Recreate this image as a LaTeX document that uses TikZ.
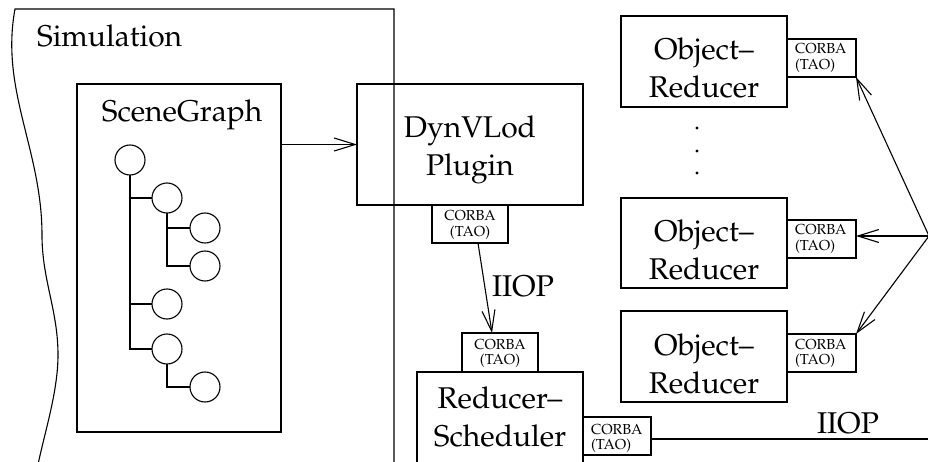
\documentclass[tikz,border=0pt]{standalone}
\usepackage[T1]{fontenc}
\usepackage{mathpazo}
\usetikzlibrary{arrows.meta,calc}

% two centred / left-aligned lines whose baseline is the first line
\newcommand\stackedc[2]{\begin{tabular}[t]{@{}c@{}}#1\\#2\end{tabular}}
\newcommand\stackedl[2]{\begin{tabular}[t]{@{}l@{}}#1\\#2\end{tabular}}

\begin{document}
\begin{tikzpicture}[x=1pt,y=-1pt,
  every node/.style={inner sep=0pt, outer sep=0pt},
  box/.style={draw, rectangle, line width=1.2pt},
  leaf/.style={draw, circle, line width=1.1pt, minimum size=30pt},
  big/.style={font=\fontsize{30}{38}\selectfont},
  small/.style={font=\fontsize{14.5}{15.5}\selectfont},
  wire/.style={line width=1.1pt},
  arr/.style={line width=1.1pt, -{Straight Barb[length=21pt,width=13pt,line width=1.1pt]}}]

\clip (0,0) rectangle (928,462);

% simulation area with its torn left edge
\draw[wire] (36,475) .. controls (42,440) and (58,395) .. (58,355)
  .. controls (58,310) and (42,280) .. (42,235)
  .. controls (42,150) and (0,90) .. (15,9) -- (394,9) -- (394,475);
\node[big, anchor=base west] (simlabel) at (37,47) {Simulation};

% scene graph
\node[box, minimum width=204pt, minimum height=348pt] (sg) at (179,258) {};
\node[big, anchor=base] (sglabel) at (182,122) {SceneGraph};
\node[leaf] (n1) at (130,160) {};
\node[leaf] (n2) at (167,198) {};
\node[leaf] (n3) at (205,228) {};
\node[leaf] (n4) at (205,266) {};
\node[leaf] (n5) at (167,304) {};
\node[leaf] (n6) at (167,349) {};
\node[leaf] (n7) at (205,387) {};
\draw[wire] (n1.south) |- (n2.west);
\draw[wire] (n1.south) |- (n5.west);
\draw[wire] (n1.south) |- (n6.west);
\draw[wire] (n2.south) |- (n3.west);
\draw[wire] (n2.south) |- (n4.west);
\draw[wire] (n6.south) |- (n7.west);

% plugin
\node[box, minimum width=226pt, minimum height=121pt] (dv) at (470,144.5) {};
\node[big, anchor=base] (dvlabel) at (470,138) {\stackedc{DynVLod}{Plugin}};
\node[box, minimum width=76pt, minimum height=38pt] (cd) at (470,224) {};
\node[small, anchor=base] (cdlabel) at (470,221) {\stackedc{CORBA}{(TAO)}};
\draw[arr] (sg.east |- dv.west) -- (dv.west);

% reducer scheduler
\node[box, minimum width=76pt, minimum height=39pt] (cr) at (500,352.5) {};
\node[small, anchor=base] (crlabel) at (500,349) {\stackedc{CORBA}{(TAO)}};
\node[box, minimum width=166pt, minimum height=108pt] (rs) at (500,426) {};
\node[big, anchor=base] (rslabel) at (500,408) {\stackedc{Reducer--}{Scheduler}};
\node[box, minimum width=68pt, minimum height=38pt] (cs) at (617,436) {};
\node[small, anchor=base west] (cslabel) at (591,434) {\stackedl{CORBA}{(TAO)}};

\draw[arr] ($(cd.south)+(8,0)$) -- ($(cr.north)+(-8,0)$);
\node[big, anchor=base west] (iiopa) at (492,296) {IIOP};

\coordinate (busend) at (930,439);
\draw[wire] (cs.east |- busend) -- (busend);
\node[big, anchor=base west] (iiopb) at (817,433) {IIOP};

% object reducers
\node[box, minimum width=166pt, minimum height=91pt] (or1) at (704,61.5) {};
\node[big, anchor=base] (or1label) at (704,60) {\stackedc{Object--}{Reducer}};
\node[box, minimum width=69pt, minimum height=38pt] (c1) at (821.5,58) {};
\node[small, anchor=base west] (c1label) at (795,54) {\stackedl{CORBA}{(TAO)}};

\node[box, minimum width=166pt, minimum height=90pt] (or2) at (704,243) {};
\node[big, anchor=base] (or2label) at (704,242) {\stackedc{Object--}{Reducer}};
\node[box, minimum width=69pt, minimum height=38pt] (c2) at (821.5,239) {};
\node[small, anchor=base west] (c2label) at (795,235) {\stackedl{CORBA}{(TAO)}};

\node[box, minimum width=166pt, minimum height=91pt] (or3) at (704,356.5) {};
\node[big, anchor=base] (or3label) at (704,355) {\stackedc{Object--}{Reducer}};
\node[box, minimum width=69pt, minimum height=38pt] (c3) at (821.5,353) {};
\node[small, anchor=base west] (c3label) at (795,349) {\stackedl{CORBA}{(TAO)}};

% vertical ellipsis between the reducers
\fill (697,128) circle (1.7);
\fill (697,151) circle (1.7);
\fill (697,173) circle (1.7);

% fan-out to the object reducers
\coordinate (hub) at (929,236);
\draw[arr] (hub) -- (c1.south east);
\draw[arr] (hub) -- (c2.east |- hub);
\draw[arr] (hub) -- (c3.north east);
\end{tikzpicture}
\end{document}
